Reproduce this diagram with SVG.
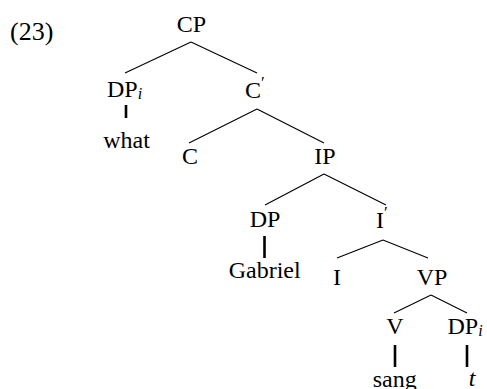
<svg xmlns="http://www.w3.org/2000/svg" width="487" height="389" viewBox="0 0 487 389">
<style>
text{font-family:"Liberation Serif","Times New Roman",serif;font-size:24px;fill:#000}
.m{text-anchor:middle}
.s{font-size:16px;font-style:italic}
.p{font-size:17px}
.it{font-style:italic}
.e{stroke:#000;stroke-width:1.1;fill:none}
.b{stroke:#000;stroke-width:2.6;fill:none}
</style>
<rect width="487" height="389" fill="#fff"/>
<text x="10" y="40" style="font-size:26px">(23)</text>
<g id="connectors">
<line class="e" x1="191" y1="42" x2="125" y2="73"/>
<line class="e" x1="191" y1="42" x2="257" y2="73"/>
<line class="b" x1="126" y1="105" x2="126" y2="118"/>
<line class="e" x1="257" y1="109" x2="189" y2="143"/>
<line class="e" x1="257" y1="109" x2="324" y2="143"/>
<line class="e" x1="324" y1="174" x2="265" y2="205"/>
<line class="e" x1="324" y1="174" x2="386" y2="205"/>
<line class="b" x1="264.5" y1="236" x2="264.5" y2="258"/>
<line class="e" x1="383" y1="240" x2="337" y2="258"/>
<line class="e" x1="383" y1="240" x2="428" y2="258"/>
<line class="e" x1="431" y1="295" x2="394" y2="313"/>
<line class="e" x1="431" y1="295" x2="467" y2="313"/>
<line class="b" x1="395" y1="345" x2="395" y2="367"/>
<line class="b" x1="467" y1="345" x2="467" y2="367"/>
</g>
<g id="n-cp"><text class="m" x="191.5" y="31.5">CP</text></g>
<g id="n-dpi"><text x="107" y="97">DP<tspan class="s" dy="2">i</tspan></text></g>
<g id="n-what"><text class="m" x="126.5" y="147.5">what</text></g>
<g id="n-cbar"><text x="245" y="98">C<tspan class="p" dy="-10">′</tspan></text></g>
<g id="n-c"><text class="m" x="190" y="164">C</text></g>
<g id="n-ip"><text class="m" x="325" y="164">IP</text></g>
<g id="n-dp"><text class="m" x="265" y="226.5">DP</text></g>
<g id="n-gabriel"><text class="m" x="264.7" y="278">Gabriel</text></g>
<g id="n-ibar"><text x="376" y="228">I<tspan class="p" dy="-10">′</tspan></text></g>
<g id="n-i"><text class="m" x="337" y="285">I</text></g>
<g id="n-vp"><text class="m" x="432" y="285">VP</text></g>
<g id="n-v"><text class="m" x="395" y="334">V</text></g>
<g id="n-sang"><text class="m" x="394.7" y="387">sang</text></g>
<g id="n-dpi2"><text x="447.5" y="334">DP<tspan class="s" dy="2">i</tspan></text></g>
<g id="n-t"><text class="m it" x="472" y="386">t</text></g>
</svg>
